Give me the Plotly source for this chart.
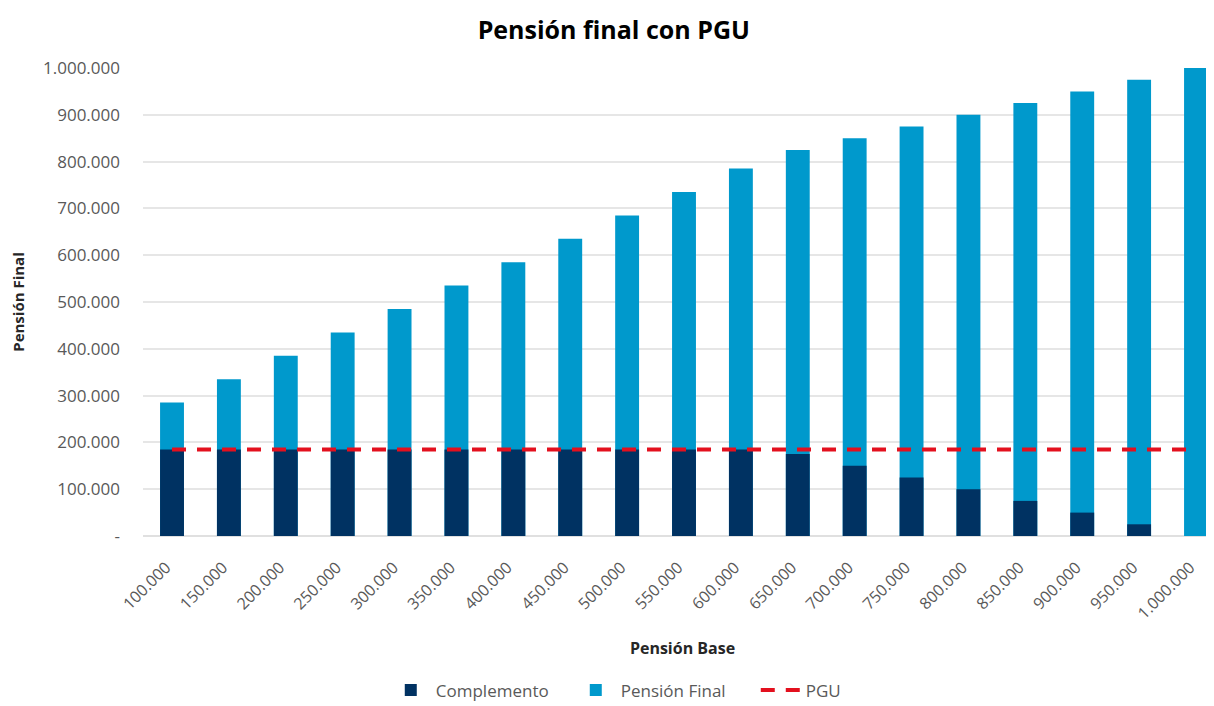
import plotly.graph_objects as go

categories = ["100.000", "150.000", "200.000", "250.000", "300.000", "350.000", "400.000",
              "450.000", "500.000", "550.000", "600.000", "650.000", "700.000", "750.000",
              "800.000", "850.000", "900.000", "950.000", "1.000.000"]
complemento = [185000, 185000, 185000, 185000, 185000, 185000, 185000, 185000, 185000,
               185000, 185000, 175000, 150000, 125000, 100000, 75000, 50000, 25000, 0]
pension_final = [285000, 335000, 385000, 435000, 485000, 535000, 585000, 635000, 685000,
                 735000, 785000, 825000, 850000, 875000, 900000, 925000, 950000, 975000, 1000000]
pgu = [185000] * 19
y_tickvals = [0, 100000, 200000, 300000, 400000, 500000, 600000, 700000, 800000, 900000, 1000000]
y_ticktext = ["-", "100.000", "200.000", "300.000", "400.000", "500.000", "600.000",
              "700.000", "800.000", "900.000", "1.000.000"]

FONT = "Open Sans"
GREY = "#595959"

fig = go.Figure()
fig.add_trace(go.Bar(x=categories, y=pension_final, name="Pensión Final",
                     marker=dict(color="#0099CC", line=dict(width=0)), legendrank=2))
fig.add_trace(go.Bar(x=categories, y=complemento, name="Complemento",
                     marker=dict(color="#003262", line=dict(width=0)), legendrank=1))
fig.add_trace(go.Scatter(x=categories, y=pgu, name="PGU", mode="lines",
                         line=dict(color="#E3101E", width=4, dash="14px,11px"), legendrank=3))

fig.update_layout(
    width=1214, height=706,
    barmode="overlay", bargap=0.58,
    paper_bgcolor="white", plot_bgcolor="white",
    margin=dict(l=135, r=0, t=60, b=178, autoexpand=False),
    title=dict(text="<b>Pensión final con PGU</b>", x=0.499, xanchor="center", xref="container",
               y=0.969, yanchor="middle", yref="container",
               font=dict(family=FONT, size=25, color="#000000")),
    font=dict(family=FONT, color=GREY),
    showlegend=True,
    legend=dict(orientation="h", x=0.225, xanchor="left", y=-0.33, yanchor="middle",
                font=dict(family=FONT, size=17, color=GREY), traceorder="normal",
                itemwidth=40, entrywidth=130, tracegroupgap=0),
    xaxis=dict(type="category", range=[-0.51, 18.457], tickangle=-45, automargin=False,
               tickfont=dict(family=FONT, size=16, color=GREY), ticklabelstandoff=18,
               ticklabelshift=-6,
               showgrid=False, showline=False, ticks="",
               title=dict(text="<b>Pensión Base</b>", standoff=20,
                          font=dict(family=FONT, size=16, color="#262626"))),
    yaxis=dict(range=[0, 1000000], tickvals=y_tickvals, ticktext=y_ticktext, automargin=False,
               tickfont=dict(family=FONT, size=17, color=GREY),
               showgrid=True, gridcolor="#E6E6E6", gridwidth=1.5,
               zeroline=True, zerolinecolor="#E0E0E0", zerolinewidth=1.5,
               showline=False, ticks="", ticklabelstandoff=22,
               title=dict(text="<b>Pensión Final</b>", standoff=14,
                          font=dict(family=FONT, size=15, color="#262626"))),
)

fig.write_html("out.html")
